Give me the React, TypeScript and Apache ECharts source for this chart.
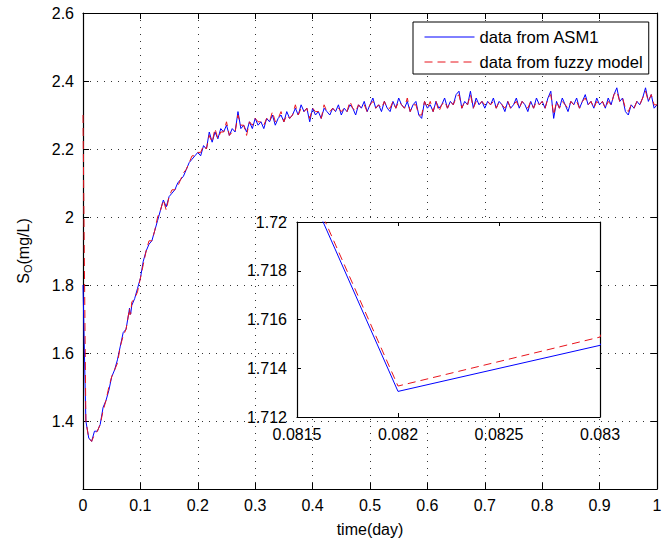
import React, { useEffect, useRef } from "react";
import * as echarts from "echarts";

// time (day)
const time = [
  0, 0.005, 0.01, 0.015, 0.02, 0.025, 0.03, 0.035, 0.04, 0.045,
  0.05, 0.055, 0.06, 0.065, 0.07, 0.075, 0.08, 0.081, 0.082, 0.083,
  0.085, 0.09, 0.095,
  0.1, 0.105, 0.11, 0.115, 0.12, 0.125, 0.13, 0.135, 0.14, 0.145,
  0.15, 0.155, 0.16, 0.165, 0.17, 0.175, 0.18, 0.185, 0.19, 0.195,
  0.2, 0.205, 0.21, 0.215, 0.22, 0.225, 0.23, 0.235, 0.24, 0.245,
  0.25, 0.255, 0.26, 0.265, 0.27, 0.275, 0.28, 0.285, 0.29, 0.295,
  0.3, 0.305, 0.31, 0.315, 0.32, 0.325, 0.33, 0.335, 0.34, 0.345,
  0.35, 0.355, 0.36, 0.365, 0.37, 0.375, 0.38, 0.385, 0.39, 0.395,
  0.4, 0.405, 0.41, 0.415, 0.42, 0.425, 0.43, 0.435, 0.44, 0.445,
  0.45, 0.455, 0.46, 0.465, 0.47, 0.475, 0.48, 0.485, 0.49, 0.495,
  0.5, 0.505, 0.51, 0.515, 0.52, 0.525, 0.53, 0.535, 0.54, 0.545,
  0.55, 0.555, 0.56, 0.565, 0.57, 0.575, 0.58, 0.585, 0.59, 0.595,
  0.6, 0.605, 0.61, 0.615, 0.62, 0.625, 0.63, 0.635, 0.64, 0.645,
  0.65, 0.655, 0.66, 0.665, 0.67, 0.675, 0.68, 0.685, 0.69, 0.695,
  0.7, 0.705, 0.71, 0.715, 0.72, 0.725, 0.73, 0.735, 0.74, 0.745,
  0.75, 0.755, 0.76, 0.765, 0.77, 0.775, 0.78, 0.785, 0.79, 0.795,
  0.8, 0.805, 0.81, 0.815, 0.82, 0.825, 0.83, 0.835, 0.84, 0.845,
  0.85, 0.855, 0.86, 0.865, 0.87, 0.875, 0.88, 0.885, 0.89, 0.895,
  0.9, 0.905, 0.91, 0.915, 0.92, 0.925, 0.93, 0.935, 0.94, 0.945,
  0.95, 0.955, 0.96, 0.965, 0.97, 0.975, 0.98, 0.985, 0.99, 0.995,
  1,
];

// S_O (mg/L), data from ASM1
const asm1 = [
  1.80, 1.40, 1.35, 1.34, 1.37, 1.37, 1.39, 1.44, 1.46, 1.49,
  1.53, 1.55, 1.58, 1.62, 1.66, 1.67, 1.72, 1.7318, 1.71305, 1.71494,
  1.74, 1.76, 1.79,
  1.82, 1.87, 1.90, 1.92, 1.93, 1.96, 1.99, 2.02, 2.05, 2.03,
  2.06, 2.07, 2.08, 2.10, 2.11, 2.12, 2.14, 2.16, 2.17, 2.18,
  2.19, 2.18, 2.21, 2.20, 2.25, 2.22, 2.25, 2.23, 2.26, 2.25,
  2.27, 2.24, 2.26, 2.25, 2.31, 2.26, 2.27, 2.25, 2.28, 2.26,
  2.29, 2.27, 2.28, 2.26, 2.29, 2.28, 2.30, 2.27, 2.29, 2.30,
  2.28, 2.31, 2.29, 2.30, 2.32, 2.30, 2.33, 2.31, 2.32, 2.28,
  2.32, 2.30, 2.31, 2.29, 2.32, 2.31, 2.30, 2.32, 2.31, 2.33,
  2.30, 2.32, 2.31, 2.33, 2.32, 2.30, 2.33, 2.32, 2.34, 2.31,
  2.33, 2.35, 2.32, 2.33, 2.31, 2.34, 2.32, 2.31, 2.34, 2.32,
  2.35, 2.33, 2.32, 2.34, 2.31, 2.33, 2.34, 2.30, 2.29, 2.34,
  2.32, 2.33, 2.31, 2.34, 2.32, 2.33, 2.35, 2.32, 2.34, 2.33,
  2.36, 2.37, 2.32, 2.34, 2.33, 2.37, 2.32, 2.35, 2.33, 2.34,
  2.32, 2.34, 2.33, 2.35, 2.32, 2.34, 2.33, 2.31, 2.34, 2.32,
  2.33, 2.35, 2.32, 2.34, 2.33, 2.31, 2.34, 2.32, 2.35, 2.33,
  2.34, 2.32, 2.35, 2.37, 2.29, 2.34, 2.32, 2.35, 2.33, 2.31,
  2.34, 2.33, 2.35, 2.32, 2.34, 2.36, 2.33, 2.34, 2.32, 2.35,
  2.33, 2.34, 2.32, 2.35, 2.33, 2.36, 2.38, 2.34, 2.35, 2.31,
  2.30, 2.33, 2.32, 2.34, 2.33, 2.35, 2.38, 2.34, 2.36, 2.32,
  2.33,
];

// S_O (mg/L), data from fuzzy model
const fuzzy = [
  2.30, 1.40, 1.35, 1.34, 1.36, 1.37, 1.39, 1.43, 1.46, 1.50,
  1.53, 1.55, 1.57, 1.62, 1.65, 1.67, 1.72, 1.7320, 1.71327, 1.71528,
  1.75, 1.76, 1.78,
  1.82, 1.86, 1.90, 1.93, 1.93, 1.96, 2.00, 2.02, 2.05, 2.02,
  2.06, 2.08, 2.08, 2.09, 2.11, 2.13, 2.14, 2.16, 2.18, 2.18,
  2.19, 2.19, 2.21, 2.20, 2.24, 2.22, 2.26, 2.23, 2.25, 2.25,
  2.28, 2.24, 2.25, 2.25, 2.30, 2.27, 2.27, 2.24, 2.28, 2.27,
  2.29, 2.28, 2.28, 2.27, 2.29, 2.28, 2.31, 2.28, 2.29, 2.31,
  2.28, 2.30, 2.29, 2.30, 2.33, 2.30, 2.32, 2.31, 2.32, 2.29,
  2.32, 2.31, 2.31, 2.29, 2.33, 2.31, 2.31, 2.32, 2.31, 2.32,
  2.31, 2.32, 2.31, 2.34, 2.32, 2.31, 2.33, 2.32, 2.33, 2.31,
  2.33, 2.34, 2.32, 2.33, 2.32, 2.34, 2.32, 2.32, 2.34, 2.32,
  2.34, 2.33, 2.32, 2.35, 2.31, 2.33, 2.33, 2.30, 2.30, 2.34,
  2.32, 2.34, 2.31, 2.34, 2.31, 2.33, 2.34, 2.32, 2.34, 2.33,
  2.35, 2.36, 2.32, 2.34, 2.33, 2.36, 2.32, 2.34, 2.33, 2.34,
  2.33, 2.34, 2.33, 2.34, 2.32, 2.34, 2.33, 2.32, 2.34, 2.32,
  2.33, 2.34, 2.32, 2.34, 2.33, 2.32, 2.34, 2.32, 2.34, 2.33,
  2.34, 2.32, 2.35, 2.36, 2.30, 2.34, 2.32, 2.34, 2.33, 2.32,
  2.34, 2.33, 2.34, 2.32, 2.34, 2.35, 2.33, 2.34, 2.32, 2.34,
  2.33, 2.34, 2.32, 2.34, 2.33, 2.36, 2.37, 2.34, 2.35, 2.32,
  2.31, 2.33, 2.32, 2.34, 2.33, 2.35, 2.37, 2.34, 2.36, 2.33,
  2.33,
];

const seriesNames = ["data from ASM1", "data from fuzzy model"];

// Inset (zoom) window
const insetTimeRange = [0.0815, 0.083];
const insetValueRange = [1.712, 1.72];

const FONT = "'Liberation Sans', Arial, Helvetica, sans-serif";
const BLUE = "#0000ff";
const RED = "#e8141c";

export default function App() {
  const ref = useRef<HTMLDivElement>(null);

  useEffect(() => {
    if (!ref.current) return;
    const chart = echarts.init(ref.current, undefined, { renderer: "svg" });

    const blueData = time.map((t, i) => [t, asm1[i]]);
    const redData = time.map((t, i) => [t, fuzzy[i]]);

    const axisLine = { show: true, onZero: false, lineStyle: { color: "#000", width: 1.2 } };
    const tickIn = (len: number) => ({ show: true, inside: true, length: len, lineStyle: { color: "#000", width: 1 } });
    const label = (margin: number, dec: number) => ({
      show: true,
      color: "#000",
      fontSize: 16,
      fontFamily: FONT,
      margin,
      formatter: (v: number) => String(+v.toFixed(dec)),
    });
    const dotted = { show: true, lineStyle: { color: "#333", width: 1, type: [1, 6] as any } };

    const option: any = {
      animation: false,
      backgroundColor: "#fff",
      textStyle: { fontFamily: FONT },
      grid: [
        { left: 83, top: 13, width: 574, height: 476, containLabel: false },
        {
          left: 297, top: 222, width: 303, height: 195,
          show: true, backgroundColor: "#fff", borderWidth: 0, z: 5,
        },
      ],
      xAxis: [
        {
          gridIndex: 0, type: "value", position: "bottom",
          min: 0, max: 1, interval: 0.1,
          axisLine, axisTick: tickIn(6), axisLabel: label(8, 2),
          splitLine: dotted,
          name: "time(day)", nameLocation: "middle", nameGap: 32,
          nameTextStyle: { color: "#000", fontSize: 16, fontFamily: FONT },
        },
        {
          gridIndex: 0, type: "value", position: "top",
          min: 0, max: 1, interval: 0.1,
          axisLine, axisTick: tickIn(6), axisLabel: { show: false },
          splitLine: { show: false },
        },
        {
          gridIndex: 1, type: "value", position: "bottom",
          min: insetTimeRange[0], max: insetTimeRange[1], interval: 0.0005,
          axisLine, axisTick: tickIn(4), axisLabel: label(9, 4),
          splitLine: { show: false }, z: 6,
        },
        {
          gridIndex: 1, type: "value", position: "top",
          min: insetTimeRange[0], max: insetTimeRange[1], interval: 0.0005,
          axisLine, axisTick: tickIn(4), axisLabel: { show: false },
          splitLine: { show: false }, z: 6,
        },
      ],
      yAxis: [
        {
          gridIndex: 0, type: "value", position: "left",
          min: 1.2, max: 2.6, interval: 0.2,
          axisLine, axisTick: tickIn(6),
          axisLabel: { ...label(9, 2), showMinLabel: false },
          splitLine: dotted,
          name: "{s|S}{sub|O}{t|(mg/L)}", nameLocation: "middle", nameGap: 50,
          nameTextStyle: {
            color: "#000", fontSize: 16, fontFamily: FONT,
            rich: {
              s: { fontSize: 16, fontFamily: FONT, color: "#000" },
              sub: { fontSize: 11, fontFamily: FONT, color: "#000", padding: [9, 0, 0, 0] },
              t: { fontSize: 16, fontFamily: FONT, color: "#000" },
            },
          },
        },
        {
          gridIndex: 0, type: "value", position: "right",
          min: 1.2, max: 2.6, interval: 0.2,
          axisLine, axisTick: tickIn(6), axisLabel: { show: false },
          splitLine: { show: false },
        },
        {
          gridIndex: 1, type: "value", position: "left",
          min: insetValueRange[0], max: insetValueRange[1], interval: 0.002,
          axisLine, axisTick: tickIn(4), axisLabel: label(10, 3),
          splitLine: { show: false }, z: 6,
        },
        {
          gridIndex: 1, type: "value", position: "right",
          min: insetValueRange[0], max: insetValueRange[1], interval: 0.002,
          axisLine, axisTick: tickIn(4), axisLabel: { show: false },
          splitLine: { show: false }, z: 6,
        },
      ],
      legend: {
        data: seriesNames,
        left: 413, top: 22, orient: "vertical",
        itemWidth: 50, itemHeight: 14, itemGap: 7,
        padding: [6, 6, 3, 11],
        borderColor: "#000", borderWidth: 1, borderRadius: 0,
        backgroundColor: "#fff",
        itemStyle: { opacity: 0, color: "transparent", borderWidth: 0 },
        lineStyle: { width: 1 },
        textStyle: { fontSize: 16.6, color: "#000", fontFamily: FONT, lineHeight: 18 },
        z: 10,
      },
      series: [
        {
          name: seriesNames[0], type: "line", xAxisIndex: 0, yAxisIndex: 0,
          data: blueData, symbol: "none", showSymbol: false,
          lineStyle: { color: BLUE, width: 1 }, itemStyle: { color: BLUE }, z: 2,
        },
        {
          name: seriesNames[1], type: "line", xAxisIndex: 0, yAxisIndex: 0,
          data: redData, symbol: "none", showSymbol: false,
          lineStyle: { color: RED, width: 1, type: [8, 5] }, itemStyle: { color: RED }, z: 3,
        },
        {
          name: seriesNames[0], type: "line", xAxisIndex: 2, yAxisIndex: 2,
          data: blueData, symbol: "none", showSymbol: false, clip: true,
          lineStyle: { color: BLUE, width: 1 }, itemStyle: { color: BLUE }, z: 7,
        },
        {
          name: seriesNames[1], type: "line", xAxisIndex: 2, yAxisIndex: 2,
          data: redData, symbol: "none", showSymbol: false, clip: true,
          lineStyle: { color: RED, width: 1, type: [8, 5] }, itemStyle: { color: RED }, z: 8,
        },
      ],
    };

    chart.setOption(option);
    return () => chart.dispose();
  }, []);

  return <div ref={ref} style={{ width: 667, height: 544, position: "absolute", left: 0, top: 0 }} />;
}
